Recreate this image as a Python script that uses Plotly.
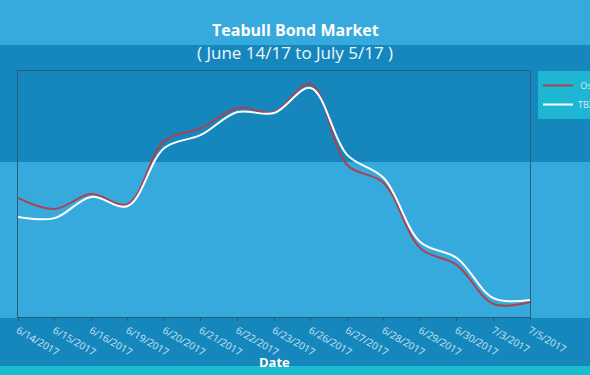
import plotly.graph_objects as go

dates = ["6/14/2017", "6/15/2017", "6/16/2017", "6/19/2017", "6/20/2017",
         "6/21/2017", "6/22/2017", "6/23/2017", "6/26/2017", "6/27/2017",
         "6/28/2017", "6/29/2017", "6/30/2017", "7/3/2017", "7/5/2017"]
osc_values = [48.4, 43.9, 50.0, 45.9, 71.5, 76.8, 84.9, 83.3, 94.7, 61.8,
              54.5, 28.0, 21.1, 5.3, 6.1]
tbx_values = [40.7, 40.2, 48.8, 45.1, 68.7, 74.0, 83.3, 82.9, 93.1, 65.9,
              56.5, 30.5, 24.0, 7.7, 6.9]
series_names = ["\u00a0Oscillator", "TBX Index"]

W, H = 590, 375
ML, MR, MT, MB = 18, 60, 71, 58
PW, PH = W - ML - MR, H - MT - MB

LIGHT = "#36a9dd"
DARK = "#1687bd"
CYAN = "#18bdd0"


def py(px):
    return (H - MB - px) / PH


x0p = -ML / PW
x1p = (W - ML) / PW
bands = [(0, 45, LIGHT), (45, 162, DARK), (162, 318, LIGHT), (318, 366, DARK), (366, 375, CYAN)]
shapes = []
for top, bot, col in bands:
    shapes.append(dict(type="rect", xref="paper", yref="paper", x0=x0p, x1=x1p,
                       y0=py(bot), y1=py(top), fillcolor=col, line=dict(width=0),
                       layer="below"))

fig = go.Figure()
fig.add_trace(go.Scatter(x=dates, y=osc_values, name=series_names[0], mode="lines",
                         line=dict(color="#ab424f", width=2, shape="spline", smoothing=1.0)))
fig.add_trace(go.Scatter(x=dates, y=tbx_values, name=series_names[1], mode="lines",
                         line=dict(color="#ffffff", width=2, shape="spline", smoothing=1.0)))

fig.update_layout(
    width=W, height=H,
    margin=dict(l=ML, r=MR, t=MT, b=MB, pad=0, autoexpand=False),
    paper_bgcolor=LIGHT,
    plot_bgcolor="rgba(0,0,0,0)",
    font=dict(family="Open Sans", color="#d6ecf7"),
    shapes=shapes,
    showlegend=True,
    legend=dict(x=(538 - ML) / PW, y=1.0, xanchor="left", yanchor="top",
                bgcolor="#1db6d3", font=dict(size=9, color="#dcecf4"),
                borderwidth=0, tracegroupgap=0),
    annotations=[
        dict(text="<b>Teabull Bond Market</b>", xref="paper", yref="paper",
             x=(W / 2 - ML) / PW, y=py(30), xanchor="center", yanchor="middle",
             showarrow=False, font=dict(size=16, color="#ffffff", family="Open Sans")),
        dict(text="( June 14/17 to July 5/17 )", xref="paper", yref="paper",
             x=(W / 2 - ML) / PW, y=py(52), xanchor="center", yanchor="middle",
             showarrow=False, font=dict(size=17, color="#f0f7fb", family="Open Sans")),
        dict(text="<b>Date</b>", xref="paper", yref="paper",
             x=0.5, y=py(362), xanchor="center", yanchor="middle",
             showarrow=False, font=dict(size=13, color="#ffffff", family="Open Sans")),
    ],
    xaxis=dict(type="category", range=[0, 14], showgrid=False, zeroline=False,
               automargin=False,
               showline=True, linecolor="#2c5d78", linewidth=1, mirror=True,
               ticks="outside", ticklen=3, tickcolor="#2c5d78",
               tickangle=30, tickfont=dict(size=10, color="#cfe6f3")),
    yaxis=dict(range=[0, 100], showgrid=False, zeroline=False, showticklabels=False,
               automargin=False,
               showline=True, linecolor="#2c5d78", linewidth=1, mirror=True, ticks=""),
)

fig.write_html("out.html", config={"displayModeBar": False},
               post_script="document.body.style.margin='0';document.body.style.padding='0';")
